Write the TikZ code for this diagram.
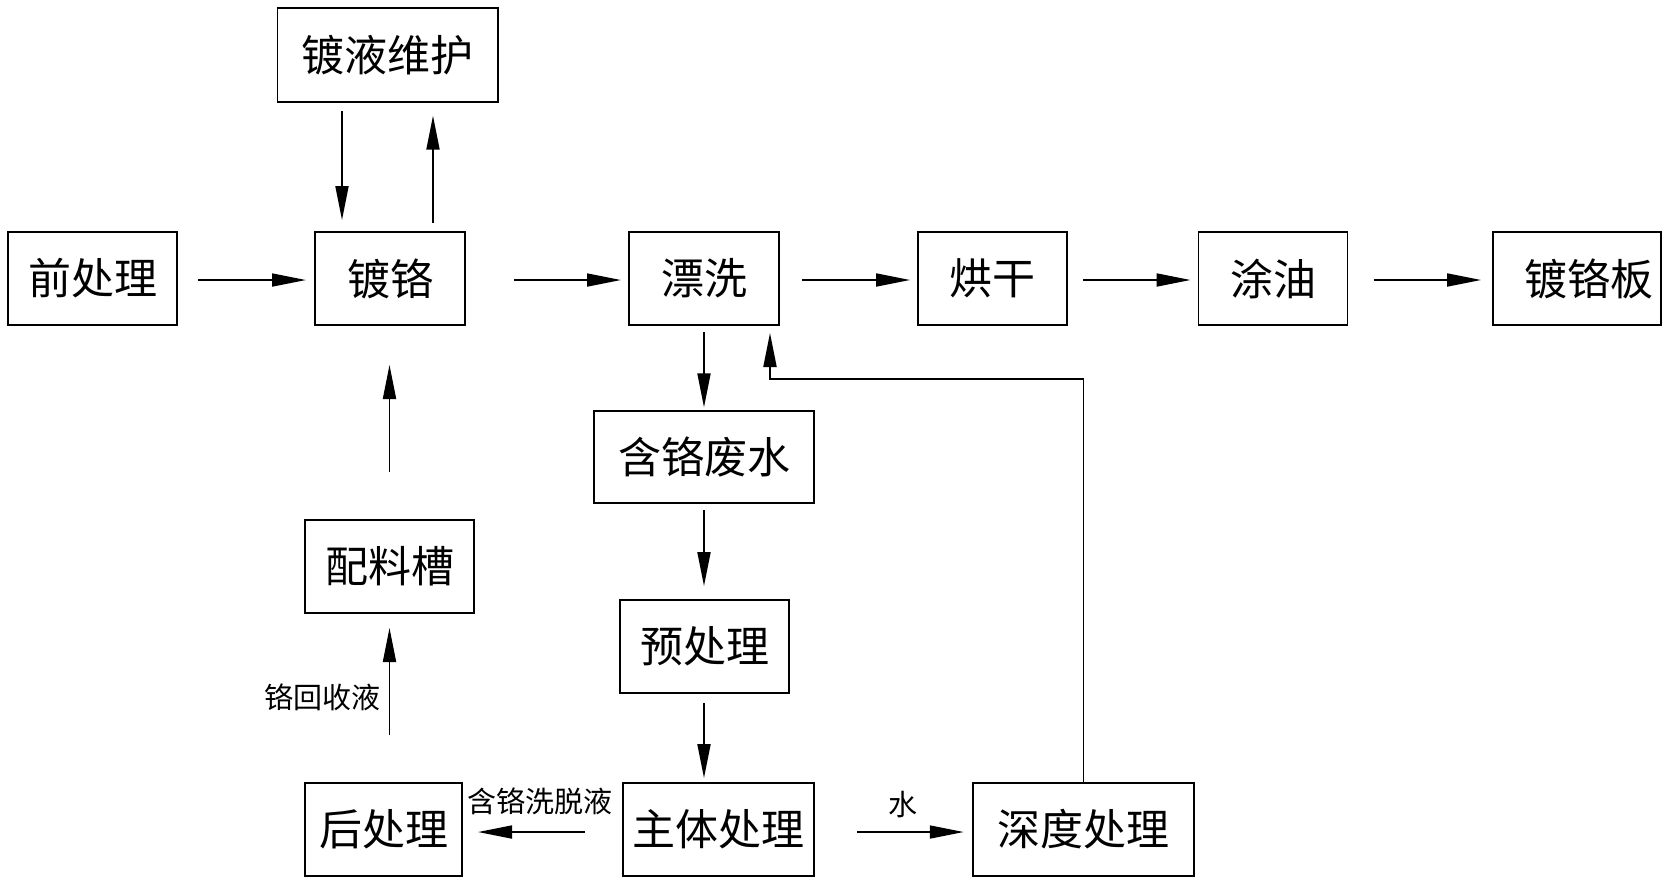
\documentclass[tikz,border=0pt]{standalone}
\usepackage{fontspec}
\setmainfont{Noto Sans CJK SC}
\usetikzlibrary{arrows.meta}
\begin{document}
\begin{tikzpicture}[x=0.5pt,y=-0.5pt,
  box/.style={draw,line width=0.9pt,inner sep=0pt,outer sep=0pt,font=\fontsize{21.5pt}{24pt}\selectfont},
  arr/.style={line width=0.9pt,-{Triangle[length=17pt,width=6.5pt]}},
  lbl/.style={font=\fontsize{14.5pt}{16pt}\selectfont,inner sep=0pt}]
\useasboundingbox (0,0) rectangle (1672,880);
% boxes
\node[box,minimum width=110.25pt,minimum height=46.7pt] (wh) at (387.75,55) {镀液维护};
\node[box,minimum width=84.5pt,minimum height=46.5pt] (qcl) at (92.5,278.5) {前处理};
\node[box,minimum width=75pt,minimum height=46.5pt] (dg) at (390,278.5) {镀铬};
\node[box,minimum width=75pt,minimum height=46.5pt] (px) at (704,278.5) {漂洗};
\node[box,minimum width=74.5pt,minimum height=46.5pt] (hg) at (992.5,278.5) {烘干};
\node[box,minimum width=74.5pt,minimum height=46.5pt] (ty) at (1273,278.5) {涂油};
\node[box,minimum width=84pt,minimum height=46.5pt,text width=84pt,align=center] (dgb) at (1577,278.5) {\hspace*{12pt}镀铬板};
\node[box,minimum width=110pt,minimum height=46pt] (fs) at (704,457) {含铬废水};
\node[box,minimum width=84.5pt,minimum height=46.5pt] (ycl) at (704.5,646.5) {预处理};
\node[box,minimum width=84.5pt,minimum height=46.5pt] (plc) at (389.5,566.5) {配料槽};
\node[box,minimum width=78.5pt,minimum height=46.5pt] (hcl) at (383.5,829.5) {后处理};
\node[box,minimum width=95.5pt,minimum height=46.5pt] (zt) at (718.5,829.5) {主体处理};
\node[box,minimum width=110.25pt,minimum height=46.5pt] (sd) at (1083.5,829.5) {深度处理};
% helper coordinates
\coordinate (xa) at (342,0);
\coordinate (xb) at (433,0);
\coordinate (yr) at (0,280);
\coordinate (yb) at (0,832);
\coordinate (fb) at (0,379);
% main row
\draw[arr] ([xshift=10.5pt]qcl.east |- yr) -- ([xshift=-4.5pt]dg.west |- yr);
\draw[arr] ([xshift=24.5pt]dg.east |- yr) -- ([xshift=-4pt]px.west |- yr);
\draw[arr] ([xshift=11.5pt]px.east |- yr) -- ([xshift=-4pt]hg.west |- yr);
\draw[arr] ([xshift=8pt]hg.east |- yr) -- ([xshift=-4pt]ty.west |- yr);
\draw[arr] ([xshift=13pt]ty.east |- yr) -- ([xshift=-6pt]dgb.west |- yr);
% plating maintenance
\draw[arr] ([yshift=-4.65pt]wh.south -| xa) -- ([yshift=6pt]dg.north -| xa);
\draw[arr] ([yshift=4.5pt]dg.north -| xb) -- ([yshift=-7pt]wh.south -| xb);
% recycle column
\draw[arr] ([yshift=24pt]plc.north) -- ([yshift=-20pt]dg.south -| plc);
\draw[arr] ([yshift=24pt]hcl.north -| plc) -- ([yshift=-7.5pt]plc.south);
\node[lbl,anchor=east] (l1) at (381,697) {铬回收液};
% waste water column
\draw[arr] ([yshift=-3.5pt]px.south -| fs) -- ([yshift=1.8pt]fs.north);
\draw[arr] ([yshift=-3.5pt]fs.south) -- ([yshift=7pt]ycl.north -| fs);
\draw[arr] ([yshift=-5pt]ycl.south -| fs) -- ([yshift=2.5pt]zt.north -| fs);
% bottom row
\draw[arr] ([xshift=-19pt]zt.west |- yb) -- ([xshift=8pt]hcl.east |- yb);
\node[lbl] (l2) at (539.5,801) {含铬洗脱液};
\draw[arr] ([xshift=21.5pt]zt.east |- yb) -- ([xshift=-4.75pt]sd.west |- yb);
\node[lbl] (l3) at (903,805) {水};
% feedback
\draw[arr] (sd.north) -- (sd.north |- fb) -- ([xshift=-4.5pt]px.east |- fb) -- ([xshift=-4.5pt,yshift=-4pt]px.south east);
\end{tikzpicture}
\end{document}
